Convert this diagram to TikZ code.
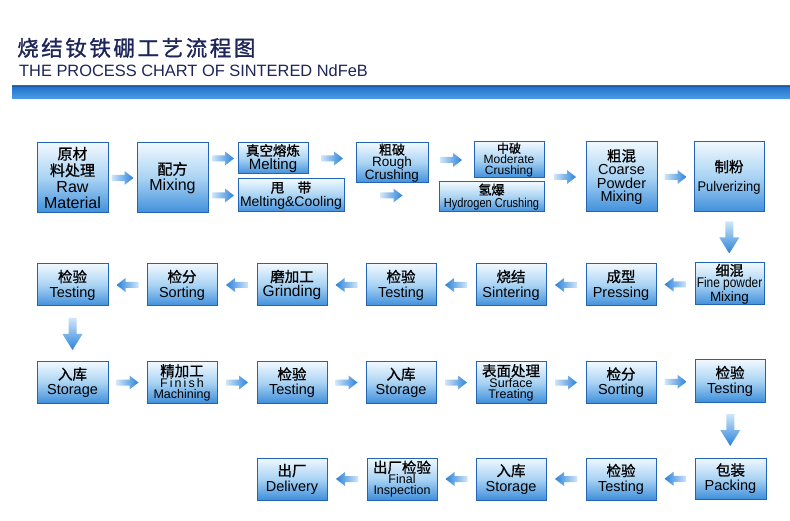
\documentclass[tikz,border=0pt]{standalone}
\usepackage{fontspec}
\setmainfont{Liberation Sans}
\newfontfamily\cjk[FakeBold=1]{Noto Sans CJK SC}
\newfontfamily\cjktitle[LetterSpace=12,FakeBold=1.2]{Noto Sans CJK SC}
\newfontfamily\cond[FakeStretch=0.85]{Liberation Sans}
\newfontfamily\condb[FakeStretch=0.92]{Liberation Sans}
\usetikzlibrary{calc}
\definecolor{navy}{HTML}{1D2559}
\definecolor{boxtop}{HTML}{F0F8FE}
\definecolor{boxmid}{HTML}{A9D3F3}
\definecolor{boxbot}{HTML}{3F8FDB}
\definecolor{boxline}{HTML}{2464B4}
\definecolor{arblue}{HTML}{2A82DA}
\definecolor{arlight}{HTML}{CFE6FA}
\definecolor{bartop}{HTML}{2070CC}
\definecolor{barbot}{HTML}{4C9DE6}
\newcommand\zh[2][14.5]{{\cjk\fontsize{#1}{#1}\selectfont #2}}
\newcommand\bx[7][15]{\node[box, font=\fontsize{14.5}{#1}\selectfont, minimum width={#4-#2}, minimum height={#5-#3}] (#6) at ({(#2+#4)/2},{(#3+#5)/2}) {#7};}
\tikzset{
  box/.style={draw=boxline, line width=1pt, top color=boxtop, bottom color=boxbot, middle color=boxmid, inner sep=0pt, align=center, text=black},
  rarr/.pic={\path[left color=arlight, middle color=arblue!75, right color=arblue] (-11,-3) -- (2,-3) -- (2,-7) -- (11,0) -- (2,7) -- (2,3) -- (-11,3) -- cycle;},
  larr/.pic={\path[right color=arlight, middle color=arblue!75, left color=arblue] (11,-3) -- (-2,-3) -- (-2,-7) -- (-11,0) -- (-2,7) -- (-2,3) -- (11,3) -- cycle;},
  darr/.pic={\path[top color=arlight, middle color=arblue!75, bottom color=arblue] (-4,-16) -- (4,-16) -- (4,0) -- (10,0) -- (0,16) -- (-10,0) -- (-4,0) -- cycle;}
}
\begin{document}
\begin{tikzpicture}[x=1pt,y=-1pt]
\useasboundingbox (0,0) rectangle (790,521);
\fill[white] (0,0) rectangle (790,521);
% title
\node[anchor=base west, inner sep=0pt, text=navy, font=\cjktitle\fontsize{21.5}{21.5}\selectfont] (tzh) at (17,56) {烧结钕铁硼工艺流程图};
\node[anchor=base west, inner sep=0pt, text=navy, font=\fontsize{16.4}{16.4}\selectfont] (ten) at (19,77) {THE PROCESS CHART OF SINTERED NdFeB};
\path[top color=bartop, bottom color=barbot] (12,86) rectangle (790,99);
\draw[bartop!80!black, line width=0.6pt] (12,86) -- (790,86);
% row 1
\bx[16.5]{37}{143}{108}{213}{raw}{\zh[15]{原材}\\\zh[15]{料处理}\\{\fontsize{16}{16.5}\selectfont Raw}\\{\fontsize{16}{16.5}\selectfont Material}}
\bx[16]{137}{143}{208}{213}{mix}{\zh[15]{配方}\\{\fontsize{16}{16}\selectfont Mixing}}
\bx[14]{238}{143}{308}{174}{melt}{\zh[13.5]{真空熔炼}\\{\fontsize{15}{14}\selectfont Melting}}
\bx[14]{238}{179}{344}{212}{mc}{\zh[13.5]{甩\hspace{1em}带}\\{\fontsize{14}{14}\selectfont Melting\&Cooling}}
\bx[11.5]{356}{143}{428}{183}{rough}{\zh[13]{粗破}\\{\fontsize{13.5}{11.5}\selectfont Rough}\\{\fontsize{13.5}{11.5}\selectfont Crushing}}
\bx[11]{474}{142}{544}{178}{mod}{\zh[12]{中破}\\{\fontsize{12}{11}\selectfont Moderate}\\{\fontsize{12}{11}\selectfont Crushing}}
\bx[13]{439}{182}{544}{212}{hyd}{\zh[13]{氢爆}\\{\cond\fontsize{13}{13}\selectfont Hydrogen Crushing}}
\bx[13.5]{586}{142}{657}{212}{coarse}{\zh[14.5]{粗混}\\{\fontsize{14.5}{13.5}\selectfont Coarse}\\{\fontsize{14.5}{13.5}\selectfont Powder}\\{\fontsize{14.5}{13.5}\selectfont Mixing}}
\bx[19]{694}{142}{764}{212}{pulv}{\zh[14.5]{制粉}\\{\condb\fontsize{14}{14}\selectfont Pulverizing}}
% row 2
\bx[12]{695}{263}{764}{305}{fine}{\zh[14]{细混}\\{\cond\fontsize{14}{12}\selectfont Fine powder}\\{\fontsize{13.5}{12}\selectfont Mixing}}
\bx{586}{264}{656}{306}{press}{\zh{成型}\\Pressing}
\bx{476}{264}{546}{306}{sint}{\zh{烧结}\\Sintering}
\bx{366}{264}{436}{306}{testb}{\zh{检验}\\Testing}
\bx{257}{264}{327}{306}{grind}{\zh{磨加工}\\{\fontsize{15.5}{15}\selectfont Grinding}}
\bx{147}{264}{217}{306}{sortb}{\zh{检分}\\Sorting}
\bx{37}{264}{108}{306}{testa}{\zh{检验}\\Testing}
% row 3
\bx{37}{362}{108}{403}{stora}{\zh{入库}\\Storage}
\bx[11]{147}{362}{217}{403}{fin}{\zh{精加工}\\{\fontsize{12.5}{11}\selectfont F\,i\,n\,i\,s\,h}\\{\fontsize{12.5}{11}\selectfont Machining}}
\bx{257}{362}{327}{403}{testc}{\zh{检验}\\Testing}
\bx{366}{362}{436}{403}{storb}{\zh{入库}\\Storage}
\bx[11]{476}{362}{546}{403}{surf}{\zh{表面处理}\\{\fontsize{12.5}{11}\selectfont Surface}\\{\fontsize{12.5}{11}\selectfont Treating}}
\bx{586}{362}{656}{403}{sortc}{\zh{检分}\\Sorting}
\bx{695}{360}{765}{402}{testd}{\zh{检验}\\Testing}
% row 4
\bx{257}{458}{327}{500}{deliv}{\zh{出厂}\\Delivery}
\bx[11]{367}{458}{437}{500}{final}{\zh{出厂检验}\\{\fontsize{12.5}{11}\selectfont Final}\\{\fontsize{12.5}{11}\selectfont Inspection}}
\bx{476}{458}{546}{500}{storc}{\zh{入库}\\Storage}
\bx{586}{458}{656}{500}{teste}{\zh{检验}\\Testing}
\bx{695}{458}{766}{499}{pack}{\zh{包装}\\Packing}
% arrows row 1
\pic at ($(raw.east)!0.5!(mix.west)$) {rarr};
\pic at ($(mix.east |- melt.west)!0.5!(melt.west)$) {rarr};
\pic at ($(mix.east |- mc.west)!0.5!(mc.west)$) {rarr};
\pic at ($(melt.east)!0.5!(rough.west |- melt.east)$) {rarr};
\pic at ($(mc.east)!0.5!(hyd.west |- mc.east)$) {rarr};
\pic at ($(rough.east |- mod.west)!0.5!(mod.west)$) {rarr};
\pic at ($(hyd.east |- coarse.west)!0.5!(coarse.west)$) {rarr};
\pic at ($(coarse.east)!0.5!(pulv.west)$) {rarr};
\pic at ($(pulv.south)!0.5!(fine.north)$) {darr};
% arrows row 2
\pic at ($(fine.west)!0.5!(press.east)$) {larr};
\pic at ($(press.west)!0.5!(sint.east)$) {larr};
\pic at ($(sint.west)!0.5!(testb.east)$) {larr};
\pic at ($(testb.west)!0.5!(grind.east)$) {larr};
\pic at ($(grind.west)!0.5!(sortb.east)$) {larr};
\pic at ($(sortb.west)!0.5!(testa.east)$) {larr};
\pic at ($(testa.south)!0.5!(stora.north)$) {darr};
% arrows row 3
\pic at ($(stora.east)!0.5!(fin.west)$) {rarr};
\pic at ($(fin.east)!0.5!(testc.west)$) {rarr};
\pic at ($(testc.east)!0.5!(storb.west)$) {rarr};
\pic at ($(storb.east)!0.5!(surf.west)$) {rarr};
\pic at ($(surf.east)!0.5!(sortc.west)$) {rarr};
\pic at ($(sortc.east)!0.5!(testd.west)$) {rarr};
\pic at ($(testd.south)!0.5!(pack.north)$) {darr};
% arrows row 4
\pic at ($(pack.west)!0.5!(teste.east)$) {larr};
\pic at ($(teste.west)!0.5!(storc.east)$) {larr};
\pic at ($(storc.west)!0.5!(final.east)$) {larr};
\pic at ($(final.west)!0.5!(deliv.east)$) {larr};
\end{tikzpicture}
\end{document}
